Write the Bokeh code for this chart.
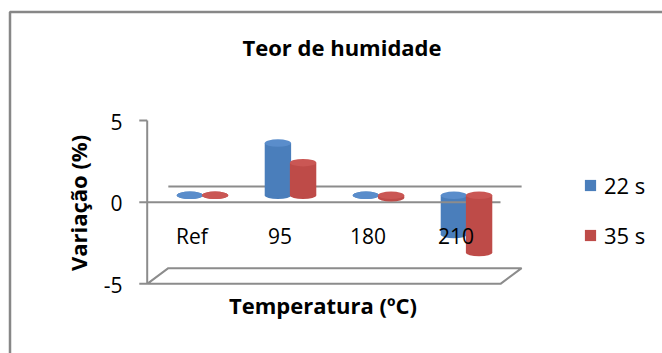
import numpy as np
from bokeh.plotting import figure
from bokeh.models import Range1d, ColumnDataSource, Legend, LegendItem
from bokeh.core.properties import value
from bokeh.embed import file_html
from bokeh.resources import INLINE

# ---------------- data ----------------
categories = ["Ref", "95", "180", "210"]
series_names = ["22 s", "35 s"]
values_22s = [0.0, 3.2, 0.0, -2.4]
values_35s = [0.0, 2.0, -0.15, -3.5]
y_ticks = [-5, 0, 5]
y_tick_labels = ["-5", "0", "5"]
chart_title = "Teor de humidade"
x_title = "Temperatura (ºC)"
y_title = "Variação (%)"

# ---------------- layout calibration ----------------
W, H = 662, 353
PX0, PXS = 202.0, 88.0    # pixel of first category, pixels per category
PY0, PYS = 201.7, 16.33   # pixel of y = 0, pixels per unit
TXT_SHIFT = 9.0           # renderer baseline correction (px)


def dx(px):
    return (px - PX0) / PXS


def dy(py):
    return (PY0 - py) / PYS


FONT_NAME = "Open Sans"
FONT = value(FONT_NAME)
GRAY = "#8C8C8C"

p = figure(width=W, height=H,
           x_range=Range1d(dx(0), dx(W)), y_range=Range1d(dy(H), dy(0)),
           x_axis_location=None, y_axis_location=None,
           toolbar_location=None, output_backend="svg", min_border=0)
p.outline_line_color = None
p.grid.visible = False
p.background_fill_color = "white"
p.border_fill_color = "white"

# outer chart border (left and top visible)
p.line(x=[dx(9.5), dx(9.5), dx(720)], y=[dy(420), dy(11.5), dy(11.5)],
       line_color="#878787", line_width=2.5)

# 3D frame geometry
plot_left, plot_right = dx(146.7), dx(500)
depth_x, depth_y = 0.24, 0.96
ymin, ymax = min(y_ticks), max(y_ticks)

# back wall zero line
p.line(x=[plot_left + depth_x, plot_right + depth_x], y=[depth_y, depth_y],
       line_color=GRAY, line_width=2)
# floor
p.patch(x=[plot_left, plot_right, plot_right + depth_x, plot_left + depth_x],
        y=[ymin, ymin, ymin + depth_y, ymin + depth_y],
        fill_color="white", line_color=GRAY, line_width=2)

# value axis
p.line(x=[plot_left, plot_left], y=[ymin, ymax], line_color=GRAY, line_width=2)
p.segment(x0=[plot_left - 0.09] * len(y_ticks), y0=y_ticks,
          x1=[plot_left] * len(y_ticks), y1=y_ticks, line_color=GRAY, line_width=2)
p.text(x=[dx(122)] * len(y_ticks), y=[t - (10 - TXT_SHIFT) / PYS for t in y_ticks],
       text=y_tick_labels,
       text_font=FONT, text_font_size="21px", text_color="black",
       text_align="right", text_baseline="alphabetic")

# ---------------- cylinders ----------------
xs = np.arange(len(categories), dtype=float)
bar_w = 0.30
offset = 0.143
base = 0.42
ell_h = 0.46

styles = [
    (values_22s, -offset, "#4A7EBB", "#5A8DCB"),
    (values_35s, offset, "#BE4B48", "#CA5754"),
]

body_renderers = []


def draw_series(vals, off, body_col, top_col):
    v = np.array(vals)
    low = base + np.minimum(v, 0)
    high = base + np.maximum(v, 0)
    src = ColumnDataSource(dict(x=xs + off, low=low, high=high))
    p.ellipse(x="x", y="low", width=bar_w, height=ell_h, source=src,
              fill_color=body_col, line_color=None)
    r = p.vbar(x="x", bottom="low", top="high", width=bar_w, source=src,
               fill_color=body_col, line_color=None)
    p.ellipse(x="x", y="high", width=bar_w, height=ell_h, source=src,
              fill_color=top_col, line_color=None)
    body_renderers.append(r)


draw_series(*styles[0])
# front zero line (drawn between the two series as in the original)
p.line(x=[plot_left, plot_right], y=[0, 0], line_color=GRAY, line_width=2)
draw_series(*styles[1])

# category labels
p.text(x=xs - 0.12, y=[dy(244 - TXT_SHIFT)] * len(categories), text=categories,
       text_font=FONT, text_font_size="21px", text_color="black",
       text_align="center", text_baseline="alphabetic")

# titles
p.text(x=[dx(341.5)], y=[dy(55 - TXT_SHIFT)], text=[chart_title], text_font=FONT,
       text_font_size="22px", text_font_style="bold", text_color="black",
       text_align="center", text_baseline="alphabetic")
p.text(x=[dx(322.5)], y=[dy(313.3 - TXT_SHIFT)], text=[x_title], text_font=FONT,
       text_font_size="22px", text_font_style="bold", text_color="black",
       text_align="center", text_baseline="alphabetic")
p.text(x=[dx(86 - TXT_SHIFT)], y=[dy(202.5)], text=[y_title], text_font=FONT,
       angle=np.pi / 2,
       text_font_size="22px", text_font_style="bold", text_color="black",
       text_align="center", text_baseline="alphabetic")

# legend
legend = Legend(items=[LegendItem(label=series_names[0], renderers=[body_renderers[0]]),
                       LegendItem(label=series_names[1], renderers=[body_renderers[1]])],
                location=(583, 103), orientation="vertical",
                glyph_width=14, glyph_height=14, label_standoff=7, spacing=20,
                label_text_font=FONT_NAME, label_text_font_size="22px",
                label_text_color="black", padding=0, margin=0,
                border_line_color=None, background_fill_alpha=0)
p.add_layout(legend)

open("out.html", "w").write(file_html(p, INLINE))
